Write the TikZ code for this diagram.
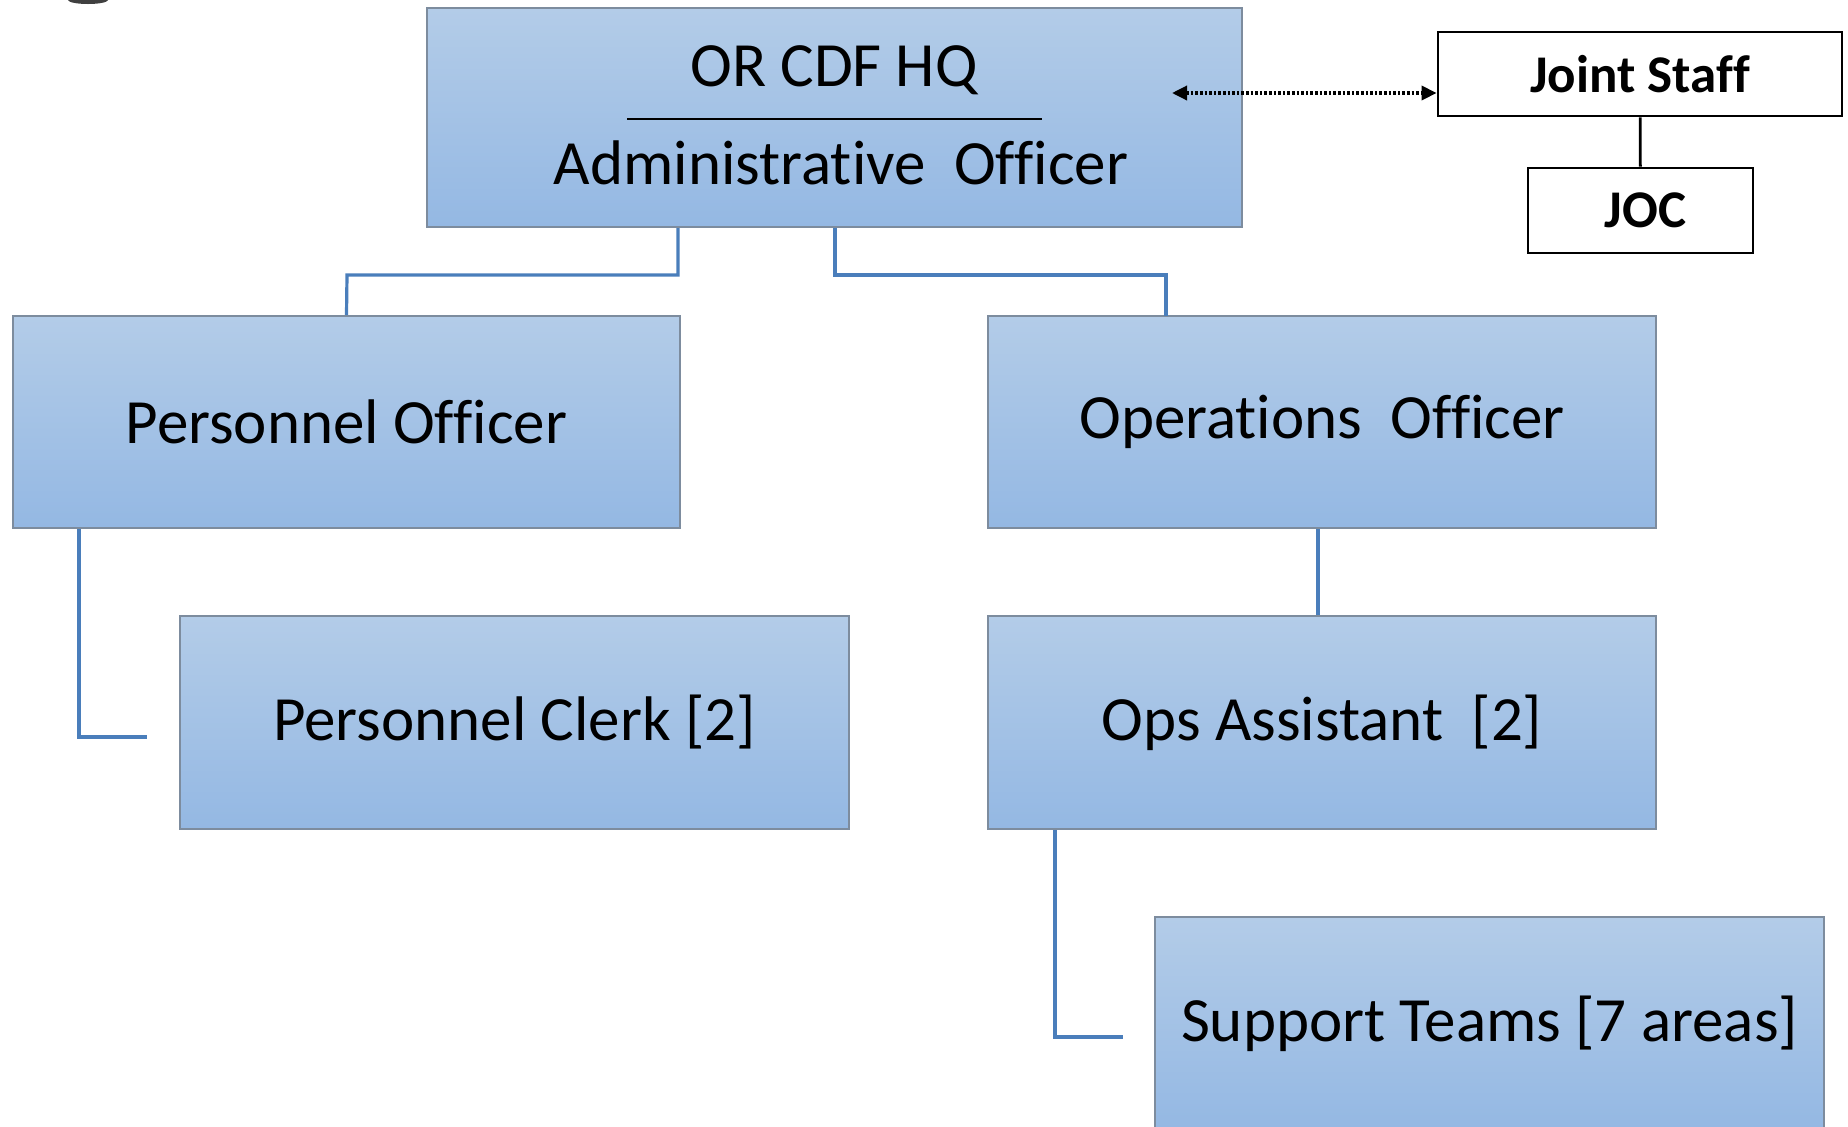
\documentclass[tikz,border=0pt]{standalone}
\usepackage{fontspec}
\setmainfont{Carlito}[Ligatures={NoCommon,NoContextual}]
\usetikzlibrary{arrows.meta}
\definecolor{boxtop}{HTML}{B3CCE8}
\definecolor{boxbot}{HTML}{94B8E3}
\definecolor{boxline}{HTML}{7D8C9E}
\definecolor{linkblue}{HTML}{4A7EBB}
\begin{document}
\begin{tikzpicture}[x=0.5pt,y=-0.5pt,
		unit/.style={draw=boxline,line width=1pt,top color=boxtop,bottom color=boxbot,
			font=\fontsize{31.5}{36}\selectfont,inner sep=0pt},
		ext/.style={draw=black,line width=1.4pt,fill=white,inner sep=0pt,
			font=\fontsize{26.5}{30}\selectfont\bfseries},
		link/.style={draw=linkblue,line width=1.6pt}]
	\useasboundingbox (0,0) rectangle (1848,1126);
	\clip (0,0) rectangle (1848,1126);
	%\draw[help lines,step=100] (0,0) grid (1848,1126);
	\fill[black!75] (88,0) ellipse (20 and 4);

	%HQ
	\node[unit,minimum width=407.5pt,minimum height=109.5pt] (hq) at (834.5,117.5) {};
	\node[font=\fontsize{31.5}{36}\selectfont] (hqname) at (834,70) {OR CDF HQ};
	\node[font=\fontsize{31.5}{36}\selectfont] (hqrole) at (841,163) {Administrative\ \ Officer};
	\draw[line width=0.9pt] (627,119) -- (1042,119);

	%JOINT STAFF
	\node[ext,minimum width=202pt,minimum height=42pt] (js) at (1640,74) {Joint Staff};
	\node[ext,minimum width=112.5pt,minimum height=42.5pt] (joc) at (1640.5,210.5) {\hspace*{5pt}JOC};
	\draw[line width=1.4pt] (js) -- (joc);
	\coordinate (hqtip) at (1172,93);
	\draw[line width=1.7pt,dash pattern=on 1.3pt off 1pt,{Triangle[length=7.5pt,width=7pt]}-{Triangle[length=7.5pt,width=7pt]}]
		(hqtip) -- (hqtip -| js.west);

	%OFFICERS
	\node[unit,minimum width=333.5pt,minimum height=106pt] (persoff) at (346.5,422) {Personnel Officer};
	\node[unit,minimum width=334pt,minimum height=106pt] (opsoff) at (1322,422) {Operations\ \ Officer};
	\node[unit,minimum width=334.5pt,minimum height=106.5pt] (clerk) at (514.5,722.5) {Personnel Clerk [2]};
	\node[unit,minimum width=334pt,minimum height=106.5pt] (opsass) at (1322,722.5) {Ops Assistant\ \ [2]};
	\node[unit,minimum width=334.5pt,minimum height=106.5pt] (teams) at (1489.5,1023.5) {Support Teams [7 areas]};

	%LINKS
	\draw[link] (678,228) |- (347,275) -- (persoff.north);
	\draw[link] (835,228) |- (1166,275) -- (1166,316);
	\coordinate (clerkend) at (147,737);
	\coordinate (teamsend) at (1123,1037);
	\draw[link] (persoff.south -| 79,0) |- (clerkend);
	\draw[link] (opsoff.south -| 1318,0) -- (opsass.north -| 1318,0);
	\draw[link] (opsass.south -| 1055,0) |- (teamsend);
\end{tikzpicture}
\end{document}
